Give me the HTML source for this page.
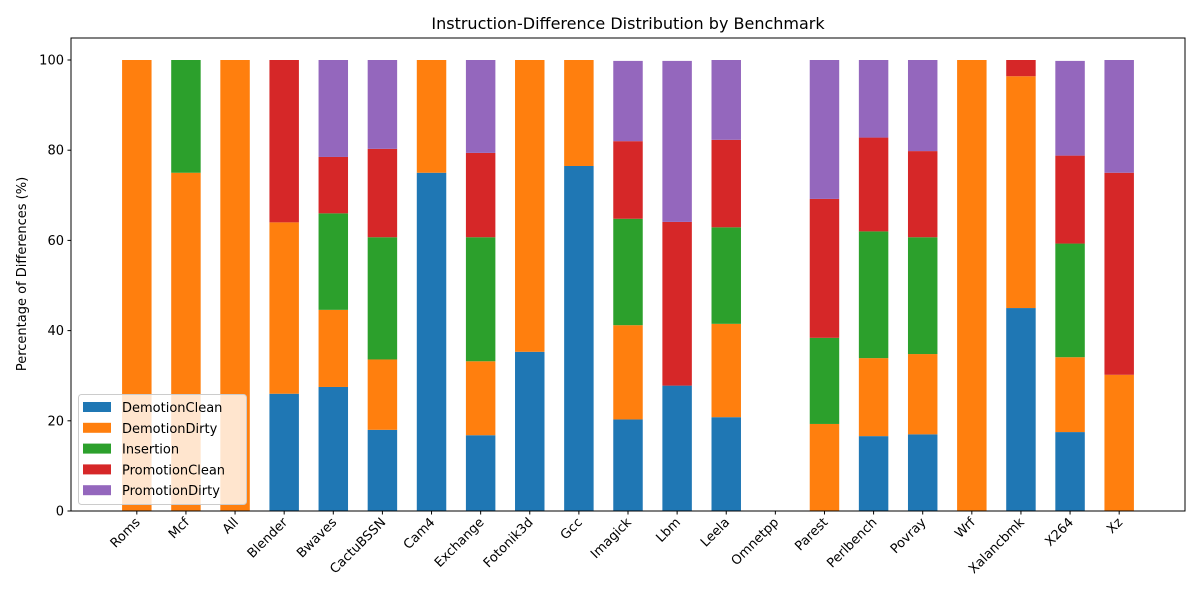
<!DOCTYPE html>
<html><head><meta charset="utf-8">
<style>
html,body{margin:0;padding:0;background:#fff;}
svg{display:block;font-family:"DejaVu Sans","Liberation Sans",sans-serif;}
</style></head>
<body>
<svg id="chart" width="1200" height="600" viewBox="0 0 1200 600" xmlns="http://www.w3.org/2000/svg">
<rect x="0" y="0" width="1200" height="600" fill="#fff"/>
<text x="628" y="29" font-size="16" text-anchor="middle" fill="#000">Instruction-Difference Distribution by Benchmark</text>
<text transform="translate(26,274) rotate(-90)" font-size="13" text-anchor="middle" fill="#000">Percentage of Differences (%)</text>
<g id="bars"></g>
<g id="axes"></g>
<g id="legend"></g>
</svg>
<script>
const categories = ["Roms","Mcf","All","Blender","Bwaves","CactuBSSN","Cam4","Exchange","Fotonik3d","Gcc","Imagick","Lbm","Leela","Omnetpp","Parest","Perlbench","Povray","Wrf","Xalancbmk","X264","Xz"];
const demotionClean = [0,0,0,26,27.5,18,75,16.8,35.3,76.5,20.3,27.8,20.8,0,0,16.6,17,0,45,17.5,0];
const demotionDirty = [100,75,100,38,17.1,15.6,25,16.4,64.7,23.5,20.9,0,20.7,0,19.3,17.3,17.8,100,51.4,16.6,30.2];
const insertion = [0,25,0,0,21.4,27.1,0,27.5,0,0,23.6,0,21.4,0,19.1,28.1,25.9,0,0,25.2,0];
const promotionClean = [0,0,0,36,12.5,19.6,0,18.7,0,0,17.2,36.3,19.4,0,30.8,20.8,19.1,0,3.6,19.5,44.8];
const promotionDirty = [0,0,0,0,21.5,19.7,0,20.6,0,0,17.8,35.7,17.7,0,30.8,17.2,20.2,0,0,21,25];
const seriesNames = ["DemotionClean","DemotionDirty","Insertion","PromotionClean","PromotionDirty"];
const yTicks = [0,20,40,60,80,100];

const colors = ["#1f77b4","#ff7f0e","#2ca02c","#d62728","#9467bd"];
const seriesData = [demotionClean,demotionDirty,insertion,promotionClean,promotionDirty];
const NS = "http://www.w3.org/2000/svg";
const L=71,R=1185,T=38,B=511;
const xMin=-1.34, xMax=categories.length-1+1.34;
function xs(i){return L+(i-xMin)/(xMax-xMin)*(R-L);}
function ys(v){return 511-v*4.51;}
function mk(tag,attrs,parent){const e=document.createElementNS(NS,tag);for(const k in attrs)e.setAttribute(k,attrs[k]);parent.appendChild(e);return e;}
const bars=document.getElementById('bars');
const axes=document.getElementById('axes');
const legend=document.getElementById('legend');
const bw=(xs(1)-xs(0))*0.6;
categories.forEach((c,i)=>{
  let base=0;
  seriesData.forEach((s,si)=>{
    const v=s[i];
    if(v>0){
      const r=mk('rect',{x:xs(i)-bw/2,y:ys(base+v),width:bw,height:ys(base)-ys(base+v),fill:colors[si]},bars);
      
      
    }
    base+=v;
  });
});
const frame=mk('rect',{x:L,y:T,width:R-L,height:B-T,fill:'none',stroke:'#000','stroke-width':1},axes);


yTicks.forEach(t=>{
  const y=ys(t);
  const tk=mk('line',{x1:L-3.5,x2:L,y1:y,y2:y,stroke:'#000'},axes);
  
  
  const tx=mk('text',{x:L-7,y:y+4.5,'font-size':13,'text-anchor':'end',fill:'#000'},axes);
  tx.textContent=t;
  
  
});
categories.forEach((c,i)=>{
  const x=xs(i);
  const tk=mk('line',{x1:x,x2:x,y1:B,y2:B+3.5,stroke:'#000'},axes);
  
  
  const tx=mk('text',{transform:`translate(${x+4},${B+12}) rotate(-45)`,'font-size':13,'text-anchor':'end',fill:'#000'},axes);
  tx.textContent=c;
  
  
});
const lb=mk('rect',{x:78.5,y:394.5,width:168,height:110,rx:3,fill:'#fff','fill-opacity':0.8,stroke:'#ccc'},legend);


seriesNames.forEach((n,si)=>{
  const y=407+si*20.8;
  const sw=mk('rect',{x:83,y:y-5,width:28,height:10,fill:colors[si]},legend);
  
  
  const tx=mk('text',{x:122,y:y+5,'font-size':13,fill:'#000'},legend);
  tx.textContent=n;
  
  
});
</script>
</body></html>
